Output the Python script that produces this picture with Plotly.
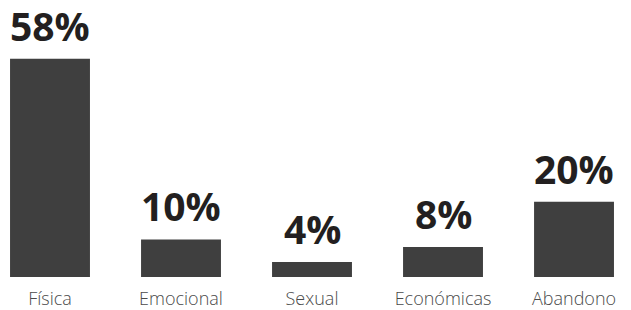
import plotly.graph_objects as go

categories = ["Física", "Emocional", "Sexual", "Económicas", "Abandono"]
values = [58, 10, 4, 8, 20]
labels = ["58%", "10%", "4%", "8%", "20%"]

bar_color = "#3f3f3f"

fig = go.Figure()
fig.add_trace(go.Bar(
    x=categories, y=values,
    marker=dict(color=bar_color, line=dict(width=0)),
    width=0.61,
    hoverinfo="skip",
))

for c, v, t in zip(categories, values, labels):
    fig.add_annotation(
        x=c, y=v, text=t, showarrow=False,
        xanchor="center", yanchor="bottom", yshift=5,
        font=dict(family="Open Sans", size=39, color="#231f20", weight="bold"),
    )

fig.update_layout(
    width=623, height=302,
    margin=dict(l=0, r=0, t=0, b=33),
    paper_bgcolor="white", plot_bgcolor="white",
    showlegend=False,
    xaxis=dict(
        range=[-0.3206, 4.435],
        showgrid=False, zeroline=False, showline=False,
        ticks="outside", ticklen=5, tickcolor="rgba(0,0,0,0)",
        tickfont=dict(family="Open Sans", size=18, color="#4a4a4a", weight=300),
    ),
    yaxis=dict(
        range=[0, 71.5], visible=False, showgrid=False, zeroline=False,
    ),
)

fig.write_html("out.html")
